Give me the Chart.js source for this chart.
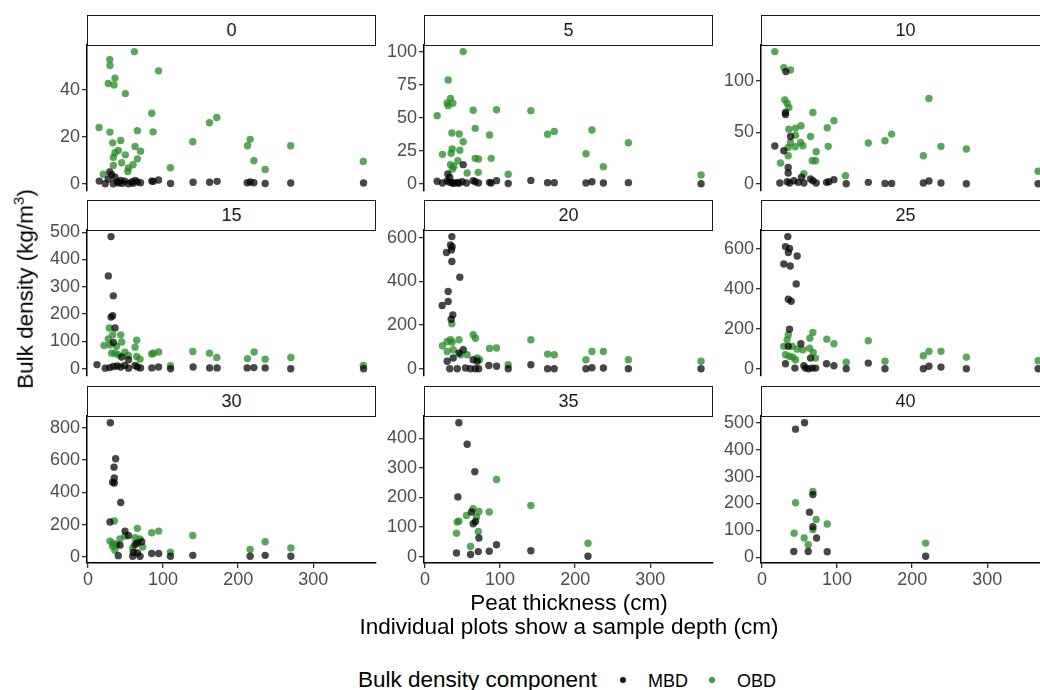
<!DOCTYPE html>
<html>
<head>
<meta charset="utf-8">
<script src="https://cdn.jsdelivr.net/npm/chart.js@4"></script>
<style>
    body { margin: 0; width: 1040px; height: 690px; overflow: hidden; position: relative; background: #fff;
           font-family: "Liberation Sans", Arial, sans-serif; }
    canvas { position: absolute; }
    .strip { position: absolute; box-sizing: border-box; height: 31px; border: 1.5px solid #1a1a1a;
             text-align: center; line-height: 28px; font-size: 18px; color: #1a1a1a; background: #fff; }
    .title { position: absolute; color: #000; font-size: 22.5px; white-space: nowrap; }
    .leg { position: absolute; white-space: nowrap; color: #000; line-height: 1; }
    .key { position: absolute; width: 6px; height: 6px; border-radius: 50%; }
</style>
</head>
<body>
<div class="title" style="left:0; width:1138px; text-align:center; top:590px;">Peat thickness (cm)</div>
<div class="title" style="left:0; width:1138px; text-align:center; top:614px;">Individual plots show a sample depth (cm)</div>
<div class="title" style="left:24px; top:289px; transform: translate(-50%, -50%) rotate(-90deg);">Bulk density (kg/m<sup style="font-size:15px">3</sup>)</div>
<div class="leg" style="left:358px; top:669px; font-size:22.5px;">Bulk density component</div>
<div class="key" style="left:620px; top:677px; background:#111;"></div>
<div class="leg" style="left:648px; top:672px; font-size:18px;">MBD</div>
<div class="key" style="left:709px; top:677px; background:#3c9a3c;"></div>
<div class="leg" style="left:737px; top:672px; font-size:18px;">OBD</div>
<script>
// sample depths (cm), one panel each
const depths = [0, 5, 10, 15, 20, 25, 30, 35, 40];
const xTicks = [0, 100, 200, 300];

// y ticks per panel
const yTicks_0 = [0, 20, 40];
const yTicks_5 = [0, 25, 50, 75, 100];
const yTicks_10 = [0, 50, 100];
const yTicks_15 = [0, 100, 200, 300, 400, 500];
const yTicks_20 = [0, 200, 400, 600];
const yTicks_25 = [0, 200, 400, 600];
const yTicks_30 = [0, 200, 400, 600, 800];
const yTicks_35 = [0, 100, 200, 300, 400];
const yTicks_40 = [0, 100, 200, 300, 400, 500];

// [peat thickness, bulk density]
const mbd_0 = [[15,1.1],[23,0],[27,2],[29,5],[31.6,3.8],[36,2.8],[33.8,0],[39,0.7],[41,0.3],[43.6,1.4],[46,0.2],[49,1.1],[54,0],[58,0.7],[60,0.2],[62.7,1.4],[65.8,0.7],[70,0.4],[85,1.1],[87,1],[94,1.6],[110,0.1],[140,0.6],[162,0.6],[172,1],[212,0.4],[216,0.7],[221,0.4],[236,0.1],[270,0.3],[367,0.3]];
const obd_0 = [[61.8,56.3],[29,52.9],[29.3,50.4],[36,45],[27,42.7],[34.7,42.1],[49.8,38.4],[94,48.1],[85,30],[14.7,24],[29.3,22],[65.8,22.6],[86.7,22.1],[161.8,26],[171.6,28.2],[43.6,18.4],[32.9,17.4],[62.7,15.9],[139.6,17.9],[216,18.9],[212.4,16.2],[270,16.2],[366.7,9.5],[221,9.8],[236,6.1],[109.8,6.8],[40.4,14.2],[36,13.2],[49.8,12.3],[33.8,11.3],[70,13.8],[65.8,10.6],[44.9,8.9],[60,8.1],[53.8,6.7],[33.8,7.8],[53,5.2],[20.4,4]];

const mbd_5 = [[16.2,1.8],[23.3,0.5],[30.4,7.3],[33,4.8],[29.6,2.3],[32,1.2],[35.3,1],[37,0.3],[39.3,0.5],[43.8,1],[45,0.3],[50.9,14.4],[49.6,1.5],[55.3,0.5],[64.2,2.3],[66.9,1.5],[71.3,0.5],[86,1],[88.2,0.5],[95.3,2.3],[110.9,0.2],[141,2.5],[163.3,0.8],[172.2,0.8],[214.4,0.5],[222.4,1.5],[237.6,0.5],[270.9,0.8],[367.7,0]];
const obd_5 = [[50.9,100],[30.9,78.5],[34,64.6],[29.6,61.1],[30.9,59.1],[37.1,60.9],[16.2,51.5],[64.2,55.6],[95.3,56],[141,55.3],[35.8,38.4],[45.6,37.6],[50.9,31.8],[66.9,41.9],[86,36.9],[163.3,37.4],[172.2,39.6],[222.4,40.7],[270.9,31],[23.3,22.2],[34.9,23],[36.2,26.3],[46.4,25.3],[66.9,19.2],[71.3,18.7],[88.2,19.2],[43.8,17.4],[34,14.4],[38.4,13.1],[36.7,11.1],[56.2,8.1],[70.9,8.6],[110.9,7.1],[214.4,22.7],[237.6,12.9],[367.7,6.6]];

const mbd_10 = [[31.8,109],[31.3,69.4],[31.3,67.4],[29.1,32.3],[17.1,36.8],[38,46.1],[34.9,16.1],[34.9,10.6],[23.8,1],[33.6,2.3],[36.7,1],[42.4,3.2],[48.2,1.6],[52.7,6.5],[55.8,1],[64.7,4.8],[67.8,3.2],[72.2,1],[86,1.6],[89.1,2.3],[95.8,4.2],[112.2,0.3],[141.6,1.6],[163.8,0.6],[172.7,0.6],[214.9,1],[222.4,2.9],[238.4,1],[272.2,0.3],[367.8,0.3]];
const obd_10 = [[17.1,128.4],[29.1,112.9],[38,110.6],[30.4,81.6],[33.6,78.4],[35.8,74.2],[67.8,69.4],[222.4,82.9],[95.8,61.3],[86.9,54.5],[35.8,53.2],[44.7,54.2],[52,56.5],[44.7,47.4],[64.7,46.1],[172.7,48.4],[163.8,41.9],[141.6,39.7],[38,40.3],[51.3,40.3],[54.4,37.1],[44.2,36.1],[34.9,35.5],[88.2,36.5],[238.4,36.5],[272.2,33.9],[34.9,27.4],[214.9,27.4],[72.2,31.3],[66.9,22.6],[71.3,22.6],[24.7,20.3],[55.8,10],[111.3,8.1],[367.8,12.3]];

const mbd_15 = [[30.7,484],[27.1,340],[33.8,267],[30.7,189],[32.9,194],[36,149],[33.8,96],[44.9,43],[54,33],[12,15],[23,2],[29,4],[34,8],[39,10],[43.6,6],[49,12],[54,2],[62.7,12],[65.8,6],[70,3],[85,3],[94,6],[110,0],[140,6],[162,3],[172,3],[212,3],[221,4],[236,3],[270,0],[367,0]];
const obd_15 = [[28.4,149],[21.3,85],[27.1,109],[32.9,124],[43.6,124],[44.9,98],[31.6,57],[36,57],[40.4,51],[49.3,60],[53.8,48],[62.7,79],[64.9,104],[64.9,45],[69.3,35],[84.9,54],[87.1,57],[94.2,61],[109.8,11],[139.6,63],[161.8,57],[171.6,41],[212.4,37],[221.3,61],[236,35],[270.2,41],[366.7,12],[29.3,88],[38,82]];

const mbd_20 = [[35.8,606],[34,568],[36.2,560],[28.7,533],[35.3,545],[35.8,492],[46.4,420],[30.9,354],[30.9,308],[22.9,290],[37.1,247],[34.9,227],[51,87],[45.3,72],[37.6,49],[29.6,34],[64.2,41],[69.6,34],[85.1,15],[95.3,11],[141,18],[33,0],[43,0],[54,3],[60.5,0],[67,0],[71.5,0],[110.9,0],[163.3,0],[172.2,0],[214.4,0],[222.4,4],[237.6,3],[270.9,0],[367.7,0]];
const obd_20 = [[35.8,206],[23.3,105],[34,133],[36.2,121],[45.3,133],[29.6,79],[37.6,87],[47.5,64],[56.2,64],[64.2,156],[67.3,140],[69.6,49],[72.7,41],[86,93],[95.3,95],[110.9,18],[141,133],[163.3,67],[172.2,64],[214.4,41],[222.4,79],[237.6,79],[270.9,41],[367.7,34],[29.6,125]];

const mbd_25 = [[34.4,662],[31.3,612],[36.7,603],[35.1,582],[46.9,565],[29.1,525],[37.6,515],[45.6,425],[35.1,348],[38.9,338],[36.7,198],[35.1,112],[51.8,125],[31.3,25],[43.8,3],[55.8,15],[64.7,53],[58,3],[62,0],[67,3],[71.5,3],[86,25],[95.8,15],[112.2,0],[141.6,28],[163.8,0],[214.9,0],[222.4,12],[238.4,8],[272.2,0],[367.8,0]];
const obd_25 = [[35.1,170],[29.1,112],[33.6,145],[31.3,70],[40.2,112],[46.9,98],[54.4,95],[63.3,103],[67.8,182],[63.8,153],[68.2,82],[71.3,53],[41.1,58],[44.7,45],[86.4,148],[95.8,125],[112.2,32],[141.6,140],[163.8,37],[214.9,65],[222.4,87],[238.4,87],[272.2,58],[367.8,40],[36.4,62]];

const mbd_30 = [[29.8,830],[36.9,607],[34.7,555],[35.1,489],[32.9,462],[35.1,457],[43.6,337],[29.3,216],[49.3,160],[53.8,133],[42.7,73],[62.7,77],[65.8,87],[71.6,94],[60.4,29],[65.8,25],[40.4,8],[59.6,4],[69.3,4],[84.9,21],[94.2,21],[109.8,4],[139.6,10],[216,4],[236,10],[270.2,4]];
const obd_30 = [[35.1,222],[65.8,177],[84.9,150],[94.2,160],[139.6,133],[29.3,98],[33.8,83],[42.7,112],[32.9,67],[36,42],[49.3,129],[62.7,119],[69.3,112],[72.9,62],[59.6,56],[109.8,29],[216,46],[236,94],[270.2,56],[38.2,77]];

const mbd_35 = [[45.1,453],[56.2,380],[66.4,287],[43.8,202],[62,151],[64.2,111],[67.3,119],[71.8,63],[95.3,40],[141,20],[42,12],[60.7,7],[70.9,17],[85.6,18],[217.1,1]];
const obd_35 = [[95.3,261],[141,173],[64.2,162],[71.8,153],[85.6,151],[55.3,139],[45.1,120],[42.9,117],[42,79],[70.9,85],[60.7,34],[217.1,45],[68.7,134]];

const mbd_40 = [[56.7,500],[44.7,476],[67.8,233],[63.3,168],[67.8,114],[72.7,72],[42.4,22],[61.6,22],[86.9,21],[218,4]];
const obd_40 = [[67.8,245],[44.7,203],[72.2,141],[86.9,124],[67.8,103],[42.9,90],[56.2,72],[61.6,47],[218,53]];

const panels = [
    [mbd_0, obd_0, yTicks_0], [mbd_5, obd_5, yTicks_5], [mbd_10, obd_10, yTicks_10],
    [mbd_15, obd_15, yTicks_15], [mbd_20, obd_20, yTicks_20], [mbd_25, obd_25, yTicks_25],
    [mbd_30, obd_30, yTicks_30], [mbd_35, obd_35, yTicks_35], [mbd_40, obd_40, yTicks_40]
];

// layout of the facet grid
const colLeft = [87, 424, 761];
const rowTop = [45, 230, 416];
const plotW = 289, plotH = 147;
const axisW = 56, padTop = 10, padRight = 8, xAxisH = 30;
const font = { family: '"Liberation Sans", Arial, sans-serif', size: 18 };

const toPts = arr => arr.map(([x, y]) => ({ x, y }));

// keep the plot area fixed: no extra room for overhanging tick labels
function noPad(s) {
    s.paddingTop = 0; s.paddingBottom = 0;
    s.paddingLeft = 0; s.paddingRight = 0;
}

panels.forEach(([mbd, obd, yTicks], i) => {
    const col = i % 3, row = Math.floor(i / 3);
    const bottomRow = row === 2;

    const strip = document.createElement('div');
    strip.className = 'strip';
    strip.textContent = depths[i];
    strip.style.left = colLeft[col] + 'px';
    strip.style.top = (rowTop[row] - 30) + 'px';
    strip.style.width = plotW + 'px';
    document.body.appendChild(strip);

    const canvas = document.createElement('canvas');
    canvas.width = axisW + plotW + padRight;
    canvas.height = padTop + plotH + (bottomRow ? xAxisH : 2);
    canvas.style.left = (colLeft[col] - axisW) + 'px';
    canvas.style.top = (rowTop[row] - padTop) + 'px';
    document.body.insertBefore(canvas, document.body.firstChild);

    // ggplot style 5% expansion of the free y range
    const ys = mbd.concat(obd).map(d => d[1]);
    const lo = Math.min(...ys), hi = Math.max(...ys);
    const pad = (hi - lo) * 0.05;

    new Chart(canvas, {
        type: 'scatter',
        data: {
            datasets: [
                { label: 'MBD', data: toPts(mbd), backgroundColor: 'rgba(0,0,0,0.72)', borderWidth: 0, pointRadius: 3.7, pointHoverRadius: 3.7 },
                { label: 'OBD', data: toPts(obd), backgroundColor: 'rgba(34,139,34,0.75)', borderWidth: 0, pointRadius: 3.7, pointHoverRadius: 3.7 }
            ]
        },
        options: {
            responsive: false,
            animation: false,
            events: [],
            layout: { padding: { top: padTop, right: padRight, bottom: bottomRow ? 0 : 2, left: 0 } },
            plugins: { legend: { display: false }, tooltip: { enabled: false } },
            scales: {
                x: {
                    type: 'linear',
                    min: -1.3,
                    max: 383.6,
                    display: bottomRow,
                    afterBuildTicks: s => { s.ticks = xTicks.map(v => ({ value: v })); },
                    afterFit: s => { s.height = bottomRow ? xAxisH : 0; noPad(s); },
                    grid: { display: true, drawOnChartArea: false, drawTicks: true, tickLength: 5, color: '#333', lineWidth: 1.3 },
                    border: { display: true, color: '#000', width: 1.5 },
                    ticks: { color: '#4d4d4d', font: font, padding: 1, maxRotation: 0 }
                },
                y: {
                    type: 'linear',
                    min: lo - pad,
                    max: hi + pad,
                    afterBuildTicks: s => { s.ticks = yTicks.map(v => ({ value: v })); },
                    afterFit: s => { s.width = axisW; noPad(s); },
                    grid: { display: true, drawOnChartArea: false, drawTicks: true, tickLength: 5, color: '#333', lineWidth: 1.3 },
                    border: { display: true, color: '#000', width: 1.5 },
                    ticks: { color: '#4d4d4d', font: font, padding: 2 }
                }
            }
        }
    });
});
</script>
</body>
</html>
